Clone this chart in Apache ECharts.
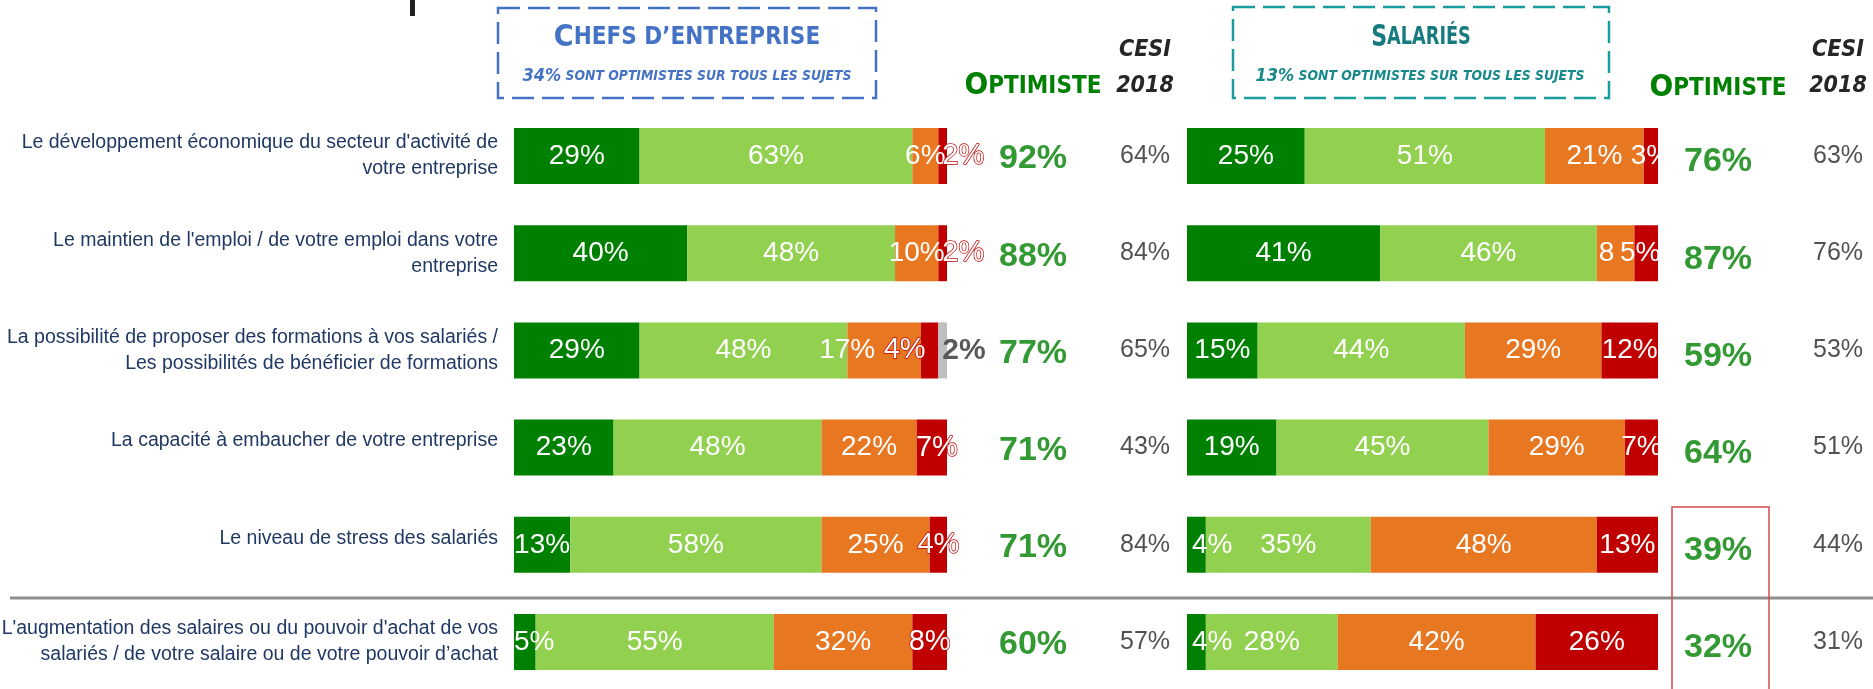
<!DOCTYPE html>
<html>
<head>
<meta charset="utf-8">
<title>Optimisme chefs d'entreprise / salariés</title>
<script src="https://cdn.jsdelivr.net/npm/echarts@6/dist/echarts.min.js"></script>
<style>
  html, body { margin: 0; padding: 0; background: #fff; }
  #chart { width: 1873px; height: 689px; }
</style>
</head>
<body>
<div id="chart"></div>
<script>
// sujets (lignes)
const categories = [
  "Le développement économique du secteur d'activité de\nvotre entreprise",
  "Le maintien de l'emploi / de votre emploi dans votre\nentreprise",
  "La possibilité de proposer des formations à vos salariés /\nLes possibilités de bénéficier de formations",
  "La capacité à embaucher de votre entreprise",
  "Le niveau de stress des salariés",
  "L'augmentation des salaires ou du pouvoir d'achat de vos\nsalariés / de votre salaire ou de votre pouvoir d’achat"
];

// chefs d'entreprise
const chefsTresOpt = [29, 40, 29, 23, 13, 5];
const chefsPlutotOpt = [63, 48, 48, 48, 58, 55];
const chefsPlutotPess = [6, 10, 17, 22, 25, 32];
const chefsTresPess = [2, 2, 4, 7, 4, 8];
const chefsNsp = [0, 0, 2, 0, 0, 0];
const chefsOptimiste = [92, 88, 77, 71, 71, 60];
const chefsCesi2018 = [64, 84, 65, 43, 84, 57];

// salariés
const salTresOpt = [25, 41, 15, 19, 4, 4];
const salPlutotOpt = [51, 46, 44, 45, 35, 28];
const salPlutotPess = [21, 8, 29, 29, 48, 42];
const salTresPess = [3, 5, 12, 7, 13, 26];
const salOptimiste = [76, 87, 59, 64, 39, 32];
const salCesi2018 = [63, 76, 53, 51, 44, 31];

const colHeaders = ['Optimiste', 'CESI 2018'];

const FONT = '"Liberation Sans", Arial, sans-serif';
const NARROW = '"DejaVu Sans Condensed", "Liberation Sans Narrow", sans-serif';
const C_VERT = '#008000';
const C_VERT_CLAIR = '#92d050';
const C_ORANGE = '#e87722';
const C_ROUGE = '#c00000';
const C_GRIS = '#bfbfbf';
const NAVY = '#1f3864';

const TOP = 107.4;
const H = 583.2;

// label red outline (small red segments)
const outlined = { color: '#fff', textBorderColor: C_ROUGE, textBorderWidth: 1.4, fontSize: 29 };

function bars(name, data, color, idx, stack, tweaks) {
  tweaks = tweaks || {};
  return {
    name: name,
    type: 'bar',
    stack: stack,
    xAxisIndex: idx,
    yAxisIndex: idx,
    barWidth: 56,
    itemStyle: { color: color },
    emphasis: { disabled: true },
    label: {
      show: true,
      position: 'inside',
      color: '#fff',
      fontFamily: FONT,
      fontSize: 28,
      formatter: p => (p.value > 0 ? p.value + '%' : '')
    },
    data: data.map((v, i) => tweaks[i] ? { value: v, label: tweaks[i] } : v)
  };
}

function column(data, idx, col, style, dy) {
  return {
    type: 'scatter',
    xAxisIndex: idx,
    yAxisIndex: idx,
    symbolSize: 1,
    itemStyle: { color: 'rgba(0,0,0,0)' },
    silent: true,
    label: Object.assign({
      show: true,
      position: 'inside',
      offset: [0, dy],
      fontFamily: FONT,
      formatter: p => p.value[2] + '%'
    }, style),
    data: data.map((v, i) => [col, i, v])
  };
}

const optStyle = { color: C_VERT, fontWeight: 'bold', fontSize: 34 };
const cesiStyle = { color: '#262626', fontSize: 25 };

function headerAxis(idx, oPad) {
  return {
    gridIndex: idx,
    type: 'category',
    data: colHeaders,
    position: 'top',
    axisLine: { show: false },
    axisTick: { show: false },
    axisLabel: {
      interval: 0,
      margin: 3,
      formatter: v => v === 'Optimiste' ? '{o|O}{opt|PTIMISTE}' : '{cesi|CESI}\n{cesi|2018}',
      rich: {
        o: { fontFamily: NARROW, fontWeight: 'bold', fontSize: 31, color: C_VERT, lineHeight: 32, padding: [0, 0, oPad, 0] },
        opt: { fontFamily: NARROW, fontWeight: 'bold', fontSize: 24, color: C_VERT, lineHeight: 32, padding: [0, 0, oPad, 0] },
        cesi: { fontFamily: NARROW, fontWeight: 'bold', fontStyle: 'italic', fontSize: 23, color: '#262626', lineHeight: 36 }
      }
    }
  };
}

function hiddenCat(idx) {
  return { gridIndex: idx, type: 'category', data: categories, inverse: true, show: false };
}

function grid(left, width) {
  return { left: left, width: width, top: TOP, height: H, containLabel: false, outerBoundsMode: 'none' };
}

const chart = echarts.init(document.getElementById('chart'));

chart.setOption({
  animation: false,
  backgroundColor: '#fff',
  grid: [
    grid(514, 433),
    grid(1187, 471),
    grid(977, 224),
    grid(1658, 240)
  ],
  xAxis: [
    { gridIndex: 0, type: 'value', min: 0, max: 100, show: false },
    { gridIndex: 1, type: 'value', min: 0, max: 100, show: false },
    headerAxis(2, 4),
    headerAxis(3, 0)
  ],
  yAxis: [
    {
      gridIndex: 0,
      type: 'category',
      data: categories,
      inverse: true,
      axisLine: { show: false },
      axisTick: { show: false },
      axisLabel: {
        margin: 16,
        color: NAVY,
        fontFamily: FONT,
        fontSize: 19.5,
        lineHeight: 26,
        align: 'right',
        formatter: v => v.indexOf('\n') < 0 ? '{one|' + v + '}' : v,
        rich: { one: { fontFamily: FONT, fontSize: 19.5, color: NAVY, padding: [0, 0, 13, 0] } }
      }
    },
    hiddenCat(1),
    hiddenCat(2),
    hiddenCat(3)
  ],
  series: [
    bars('Très optimiste', chefsTresOpt, C_VERT, 0, 'chefs', {
      5: { position: 'insideLeft', distance: 0 }
    }),
    bars('Plutôt optimiste', chefsPlutotOpt, C_VERT_CLAIR, 0, 'chefs'),
    bars('Plutôt pessimiste', chefsPlutotPess, C_ORANGE, 0, 'chefs', {
      2: { offset: [-37, 0] }
    }),
    bars('Très pessimiste', chefsTresPess, C_ROUGE, 0, 'chefs', {
      0: Object.assign({ position: 'insideLeft', distance: 4 }, outlined),
      1: Object.assign({ position: 'insideLeft', distance: 4 }, outlined),
      2: Object.assign({ offset: [-25, 0] }, outlined),
      3: Object.assign({ offset: [5, 0] }, outlined),
      4: outlined,
      5: outlined
    }),
    bars('NSP', chefsNsp, C_GRIS, 0, 'chefs', {
      2: { position: 'insideLeft', distance: 4, color: '#595959', fontWeight: 'bold', fontSize: 30 }
    }),

    bars('Très optimiste', salTresOpt, C_VERT, 1, 'sal', {
      4: { position: 'insideLeft', distance: 5 },
      5: { position: 'insideLeft', distance: 5 }
    }),
    bars('Plutôt optimiste', salPlutotOpt, C_VERT_CLAIR, 1, 'sal'),
    bars('Plutôt pessimiste', salPlutotPess, C_ORANGE, 1, 'sal', {
      1: { position: 'insideLeft', distance: 2, formatter: p => String(p.value) }
    }),
    bars('Très pessimiste', salTresPess, C_ROUGE, 1, 'sal', {
      1: { offset: [-6, 0] }
    }),

    column(chefsOptimiste, 2, 0, optStyle, 3),
    column(chefsCesi2018, 2, 1, cesiStyle, 0),
    column(salOptimiste, 3, 0, optStyle, 6),
    column(salCesi2018, 3, 1, cesiStyle, 0)
  ],
  graphic: [
    // bas d'un caractère du titre coupé
    { type: 'rect', shape: { x: 410, y: 0, width: 5, height: 16 }, style: { fill: '#222' } },
    // encadré chefs d'entreprise
    {
      type: 'rect',
      shape: { x: 498, y: 8, width: 378, height: 90 },
      style: { fill: 'none', stroke: '#4472c4', lineWidth: 2.5, lineDash: [22, 8] }
    },
    {
      type: 'text',
      x: 687, y: 38,
      style: {
        text: '{a|C}{b|HEFS D’ENTREPRISE}',
        align: 'center', verticalAlign: 'middle',
        rich: {
          a: { fontFamily: NARROW, fontWeight: 'bold', fontSize: 30, fill: '#4472c4', lineHeight: 32 },
          b: { fontFamily: NARROW, fontWeight: 'bold', fontSize: 24, fill: '#4472c4', lineHeight: 32 }
        }
      }
    },
    {
      type: 'text',
      x: 687, y: 76,
      style: {
        text: '{a|34%}{b| SONT OPTIMISTES SUR TOUS LES SUJETS}',
        align: 'center', verticalAlign: 'middle',
        rich: {
          a: { fontFamily: NARROW, fontWeight: 'bold', fontStyle: 'italic', fontSize: 18, fill: '#4472c4', lineHeight: 20 },
          b: { fontFamily: NARROW, fontWeight: 'bold', fontStyle: 'italic', fontSize: 13.8, fill: '#4472c4', lineHeight: 20 }
        }
      }
    },
    // encadré salariés
    {
      type: 'rect',
      shape: { x: 1233, y: 7, width: 376, height: 91 },
      style: { fill: 'none', stroke: '#1a9c9c', lineWidth: 2.5, lineDash: [22, 8] }
    },
    {
      type: 'text',
      x: 1421, y: 38,
      scaleX: 0.82,
      style: {
        text: '{a|S}{b|ALARIÉS}',
        align: 'center', verticalAlign: 'middle',
        rich: {
          a: { fontFamily: NARROW, fontWeight: 'bold', fontSize: 30, fill: '#167b7e', lineHeight: 32 },
          b: { fontFamily: NARROW, fontWeight: 'bold', fontSize: 24, fill: '#167b7e', lineHeight: 32 }
        }
      }
    },
    {
      type: 'text',
      x: 1420, y: 76,
      style: {
        text: '{a|13%}{b| SONT OPTIMISTES SUR TOUS LES SUJETS}',
        align: 'center', verticalAlign: 'middle',
        rich: {
          a: { fontFamily: NARROW, fontWeight: 'bold', fontStyle: 'italic', fontSize: 18, fill: '#17898b', lineHeight: 20 },
          b: { fontFamily: NARROW, fontWeight: 'bold', fontStyle: 'italic', fontSize: 13.8, fill: '#17898b', lineHeight: 20 }
        }
      }
    },
    // séparateur avant la dernière ligne
    {
      type: 'line',
      shape: { x1: 10, y1: 598, x2: 1873, y2: 598 },
      style: { stroke: '#8f8f8f', lineWidth: 3 }
    },
    // encadré rouge
    {
      type: 'rect',
      shape: { x: 1672, y: 507, width: 97, height: 200 },
      style: { fill: 'none', stroke: '#d24b4b', lineWidth: 1.5 }
    }
  ]
});
</script>
</body>
</html>
